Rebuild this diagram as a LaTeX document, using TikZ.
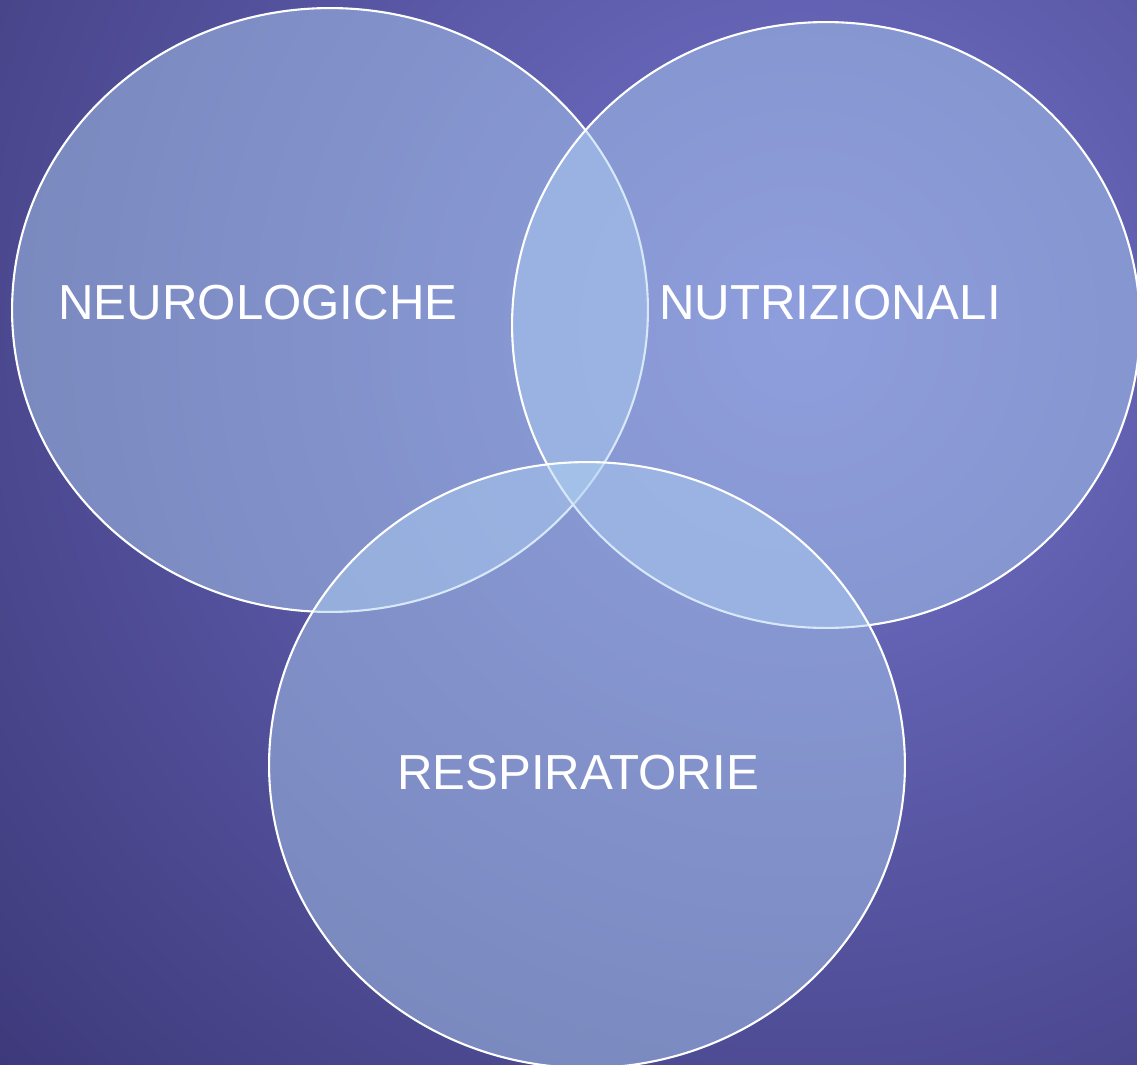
\documentclass[tikz,border=0pt]{standalone}
\usepackage{fontspec}
\setmainfont{Liberation Sans}
\usetikzlibrary{shapes.geometric}

\definecolor{bginner}{HTML}{7272CA}
\definecolor{bgouter}{HTML}{3A3676}
\definecolor{setfill}{HTML}{AED0F2}

\begin{document}
\begin{tikzpicture}[
    x=0.02cm, y=-0.02cm,
    setring/.style={draw=white, line width=1.2pt, ellipse, fill=setfill, fill opacity=0.48, inner sep=0pt},
    setlabel/.style={text=white, font=\fontsize{28}{32}\selectfont, inner sep=0pt}
]

% page and background
\useasboundingbox (0,0) rectangle (1137,1065);
\begin{scope}
\clip (0,0) rectangle (1137,1065);
\shade[inner color=bginner, outer color=bgouter] (-350,-820) rectangle (1950,1480);
\end{scope}

% the three sets
\node[setring, minimum width=12.72cm, minimum height=12.08cm] (neuro) at (330,310) {};
\node[setring, minimum width=12.56cm, minimum height=12.12cm] (nutri) at (826,325) {};
\node[setring, minimum width=12.72cm, minimum height=12.12cm] (resp) at (587,765) {};

% labels
\node[setlabel] (neurotxt) at (258,303) {NEUROLOGICHE};
\node[setlabel] (nutritxt) at (830,303) {NUTRIZIONALI};
\node[setlabel] (resptxt) at (578,773) {RESPIRATORIE};

\end{tikzpicture}
\end{document}
